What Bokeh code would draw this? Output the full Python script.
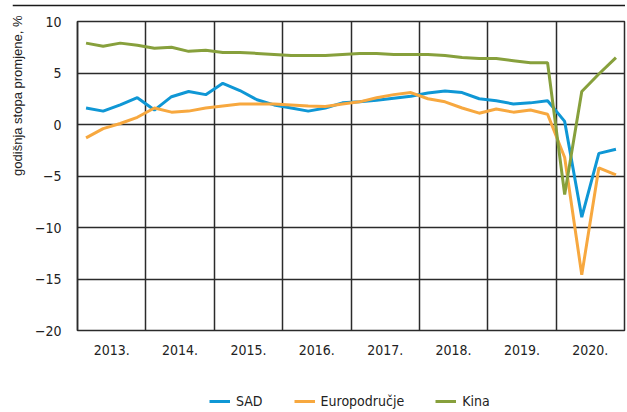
from bokeh.plotting import figure
from bokeh.models import FixedTicker, Legend, LegendItem, Title, Range1d, Span
from bokeh.layouts import column, row
from bokeh.embed import file_html
from bokeh.resources import INLINE

# ---- data (quarterly, annual growth rate, %) ----
years = [2013, 2014, 2015, 2016, 2017, 2018, 2019, 2020]
quarters = [1, 2, 3, 4]
year_labels = ["2013.", "2014.", "2015.", "2016.", "2017.", "2018.", "2019.", "2020."]
y_ticks = [-20, -15, -10, -5, 0, 5, 10]
y_tick_labels = ["\u221220", "\u221215", "\u221210", "\u22125", "0", "5", "10"]

sad = [1.6, 1.3, 1.9, 2.6, 1.4, 2.7, 3.2, 2.9,
       4.0, 3.3, 2.4, 1.9, 1.6, 1.3, 1.6, 2.1,
       2.2, 2.35, 2.55, 2.75, 3.05, 3.25, 3.1, 2.5,
       2.3, 2.0, 2.1, 2.3, 0.3, -9.0, -2.8, -2.4]
euro = [-1.3, -0.4, 0.1, 0.7, 1.6, 1.2, 1.3, 1.6,
        1.8, 2.0, 2.0, 2.0, 1.9, 1.8, 1.75, 2.0,
        2.2, 2.6, 2.9, 3.1, 2.5, 2.2, 1.6, 1.1,
        1.5, 1.2, 1.4, 1.0, -3.2, -14.6, -4.2, -4.9]
kina = [7.9, 7.6, 7.9, 7.7, 7.4, 7.5, 7.1, 7.2,
        7.0, 7.0, 6.9, 6.8, 6.7, 6.7, 6.7, 6.8,
        6.9, 6.9, 6.8, 6.8, 6.8, 6.7, 6.5, 6.4,
        6.4, 6.2, 6.0, 6.0, -6.8, 3.2, 4.9, 6.5]
series_names = ["SAD", "Europodru\u010dje", "Kina"]

x = [y + (q - 0.5) / 4 for y in years for q in quarters]

FONT = "DejaVu Sans Condensed"
FS = "14px"
C_SAD = "#0f97d5"
C_EURO = "#f7a83f"
C_KINA = "#87a03c"
GRID = "#2b2b2b"
TXT = "#222222"

# ---- strip holding the thin rule above the chart ----
rule = figure(width=613, height=15, title=None, output_backend="svg", toolbar_location=None,
              min_border=0, min_border_left=0, min_border_right=0,
              min_border_top=0, min_border_bottom=0,
              margin=(0, 0, 0, 12), x_axis_location=None, y_axis_location=None,
              x_range=Range1d(0, 1), y_range=Range1d(0, 15))
rule.background_fill_color = "white"
rule.border_fill_color = "white"
rule.outline_line_color = None
rule.grid.visible = False
rule.add_layout(Span(location=10, dimension="width", line_color="#1a1a1a", line_width=1.5))

# ---- main chart ----
p = figure(width=626, height=375, output_backend="svg", toolbar_location=None,
           x_range=Range1d(years[0], years[-1] + 1), y_range=Range1d(-20, 10),
           min_border_left=72, min_border_right=2, min_border_top=6, min_border_bottom=60,
           margin=(0, 0, 0, 0))
p.background_fill_color = "white"
p.border_fill_color = "white"
p.outline_line_color = GRID
p.outline_line_width = 1.5

p.line(x, sad, line_color=C_SAD, line_width=3)
p.line(x, euro, line_color=C_EURO, line_width=3)
p.line(x, kina, line_color=C_KINA, line_width=3)

p.xaxis.ticker = FixedTicker(ticks=[y + 0.5 for y in years])
p.xaxis.major_label_overrides = {y + 0.5: lab for y, lab in zip(years, year_labels)}
p.xgrid.ticker = FixedTicker(ticks=years[1:])
p.xgrid.grid_line_color = GRID
p.xgrid.grid_line_width = 1.5
p.xaxis.axis_line_color = None
p.xaxis.major_tick_line_color = None
p.xaxis.minor_tick_line_color = None
p.xaxis.major_label_standoff = 8
p.xaxis.major_label_text_font = FONT
p.xaxis.major_label_text_font_size = FS
p.xaxis.major_label_text_color = TXT

p.yaxis.ticker = FixedTicker(ticks=y_ticks)
p.yaxis.major_label_overrides = {t: lab for t, lab in zip(y_ticks, y_tick_labels)}
p.ygrid.ticker = FixedTicker(ticks=y_ticks)
p.ygrid.grid_line_color = GRID
p.ygrid.grid_line_width = 1.5
p.yaxis.axis_line_color = GRID
p.yaxis.axis_line_width = 1.5
p.yaxis.major_tick_line_color = None
p.yaxis.minor_tick_line_color = None
p.yaxis.major_label_standoff = 10
p.yaxis.major_label_text_font = FONT
p.yaxis.major_label_text_font_size = FS
p.yaxis.major_label_text_color = TXT

ytitle = Title(text="godi\u0161nja stopa promjene, %", align="right", offset=-6,
               text_font="Liberation Sans", text_font_size="13px", text_font_style="normal",
               text_color=TXT, standoff=14)
p.add_layout(ytitle, "left")

# ---- legend strip ----
leg = figure(width=626, height=21, output_backend="svg", toolbar_location=None,
             min_border=0, margin=(0, 0, 0, 0), x_axis_location=None, y_axis_location=None,
             x_range=Range1d(0, 1), y_range=Range1d(0, 1))
leg.outline_line_color = None
leg.grid.visible = False
l1 = leg.line(x, sad, line_color=C_SAD, line_width=3)
l2 = leg.line(x, euro, line_color=C_EURO, line_width=3)
l3 = leg.line(x, kina, line_color=C_KINA, line_width=3)
legend = Legend(items=[LegendItem(label=n, renderers=[r]) for n, r in zip(series_names, [l1, l2, l3])],
                orientation="horizontal", location=(132, 2),
                border_line_color=None, background_fill_alpha=0,
                label_text_font=FONT, label_text_font_size=FS, label_text_color=TXT,
                glyph_width=21, glyph_height=14, label_height=14, spacing=31, label_standoff=6,
                padding=0, margin=0)
leg.add_layout(legend, "center")

layout = column(row(rule), p, leg, spacing=0)
open("out.html", "w").write(file_html(layout, INLINE))
